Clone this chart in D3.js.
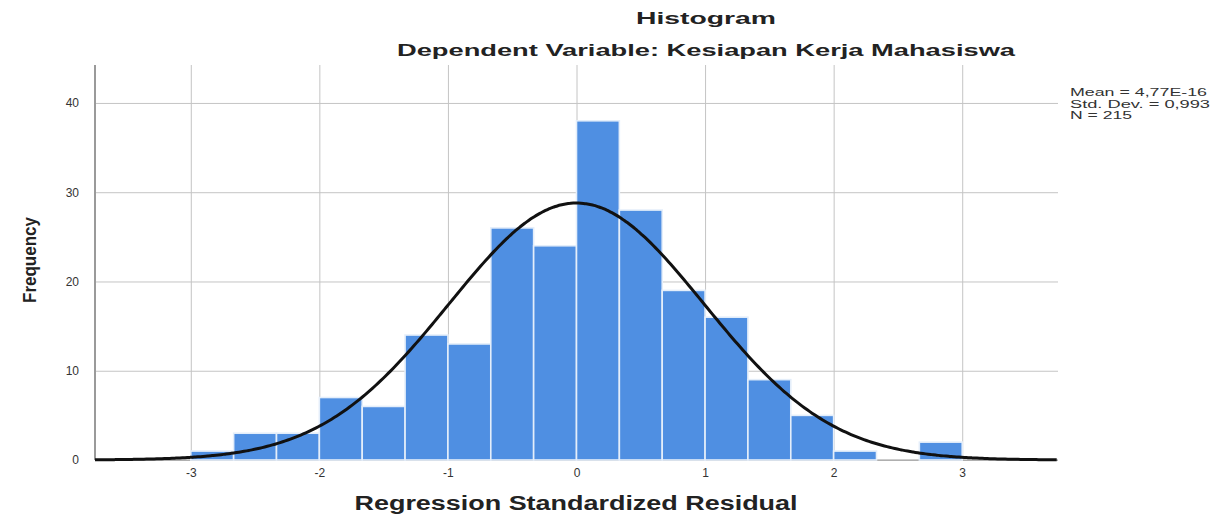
<!DOCTYPE html>
<html>
<head>
<meta charset="utf-8">
<script src="https://cdn.jsdelivr.net/npm/d3@7/dist/d3.min.js"></script>
<style>
  body { margin: 0; background: #fff; }
  svg { font-family: "Liberation Sans", Arial, sans-serif; }
</style>
</head>
<body>
<div id="plotdiv"></div>
<script>
// data
const binStart = -3;
const binWidth = 1 / 3;
const counts = [1, 3, 3, 7, 6, 14, 13, 26, 24, 38, 28, 19, 16, 9, 5, 1, 0, 2];
const xTicks = [-3, -2, -1, 0, 1, 2, 3];
const yTicks = [0, 10, 20, 30, 40];
const statLines = ["Mean = 4,77E-16", "Std. Dev. = 0,993", "N = 215"];
const mean = 4.77e-16, sd = 0.993, n = 215;

const W = 1215, H = 515;
const margin = {top: 65, right: 157, bottom: 55, left: 95};

const svg = d3.select("#plotdiv")
  .append("svg")
  .attr("width", W)
  .attr("height", H);

const x = d3.scaleLinear().domain([-3.745, 3.745]).range([margin.left, W - margin.right]);
const y = d3.scaleLinear().domain([0, 44.25]).range([H - margin.bottom, margin.top]);

// grid via axes
const gx = svg.append("g")
  .attr("transform", "translate(0," + y(0) + ")")
  .call(d3.axisBottom(x).tickValues(xTicks).tickSize(-(y(0) - margin.top)).tickPadding(8).tickFormat(d => String(d)));
gx.select(".domain").remove();
gx.selectAll(".tick line").attr("stroke", "#c4c4c4");
gx.selectAll(".tick text").attr("font-size", 12).attr("fill", "#333");

const gy = svg.append("g")
  .attr("transform", "translate(" + margin.left + ",0)")
  .call(d3.axisLeft(y).tickValues(yTicks).tickSize(-(x.range()[1] - margin.left)).tickPadding(16));
gy.select(".domain").remove();
gy.selectAll(".tick line").attr("stroke", "#c4c4c4");
gy.selectAll(".tick text").attr("font-size", 12).attr("fill", "#333");

// axis lines
svg.append("line")
  .attr("x1", margin.left).attr("x2", margin.left)
  .attr("y1", margin.top).attr("y2", y(0))
  .attr("stroke", "#9a9a9a").attr("stroke-width", 2);
svg.append("line")
  .attr("x1", margin.left).attr("x2", x.range()[1])
  .attr("y1", y(0)).attr("y2", y(0))
  .attr("stroke", "#9a9a9a").attr("stroke-width", 1);

// bars
svg.selectAll("rect.bar")
  .data(counts)
  .enter()
  .append("rect")
  .attr("class", "bar")
  .attr("x", (c, i) => x(binStart + i * binWidth))
  .attr("width", x(binWidth) - x(0))
  .attr("y", c => y(c))
  .attr("height", c => y(0) - y(c))
  .attr("fill", "#4f8fe2")
  .attr("stroke", "#e4eefa")
  .attr("stroke-width", 1.6)
  .style("display", c => c > 0 ? null : "none");

// normal curve from the stats shown
const pts = d3.range(-3.745, 3.7451, 0.02);
const dens = v => n * binWidth * Math.exp(-0.5 * ((v - mean) / sd) ** 2) / (sd * Math.sqrt(2 * Math.PI));
svg.append("path")
  .datum(pts)
  .attr("d", d3.line().x(v => x(v)).y(v => y(dens(v))).curve(d3.curveBasis))
  .attr("fill", "none")
  .attr("stroke", "#111")
  .attr("stroke-width", 3);

// titles
svg.append("text")
  .attr("x", 706).attr("y", 24)
  .attr("text-anchor", "middle")
  .attr("font-size", 17).attr("font-weight", "bold").attr("fill", "#222")
  .attr("textLength", 140).attr("lengthAdjust", "spacingAndGlyphs")
  .text("Histogram");
svg.append("text")
  .attr("x", 706).attr("y", 56)
  .attr("text-anchor", "middle")
  .attr("font-size", 17).attr("font-weight", "bold").attr("fill", "#222")
  .attr("textLength", 618).attr("lengthAdjust", "spacingAndGlyphs")
  .text("Dependent Variable: Kesiapan Kerja Mahasiswa");

// axis titles
svg.append("text")
  .attr("transform", "translate(36,260) rotate(-90)")
  .attr("text-anchor", "middle")
  .attr("font-size", 19).attr("font-weight", "bold").attr("fill", "#222")
  .attr("textLength", 86).attr("lengthAdjust", "spacingAndGlyphs")
  .text("Frequency");
svg.append("text")
  .attr("x", 576).attr("y", 510)
  .attr("text-anchor", "middle")
  .attr("font-size", 20).attr("font-weight", "bold").attr("fill", "#222")
  .attr("textLength", 443).attr("lengthAdjust", "spacingAndGlyphs")
  .text("Regression Standardized Residual");

// stats box
const statW = [137, 140, 62];
svg.selectAll("text.stat")
  .data(statLines)
  .enter()
  .append("text")
  .attr("class", "stat")
  .attr("x", 1070)
  .attr("y", (s, i) => 96 + i * 11.5)
  .attr("font-size", 10).attr("fill", "#333")
  .attr("textLength", (s, i) => statW[i]).attr("lengthAdjust", "spacingAndGlyphs")
  .text(s => s);
</script>
</body>
</html>
